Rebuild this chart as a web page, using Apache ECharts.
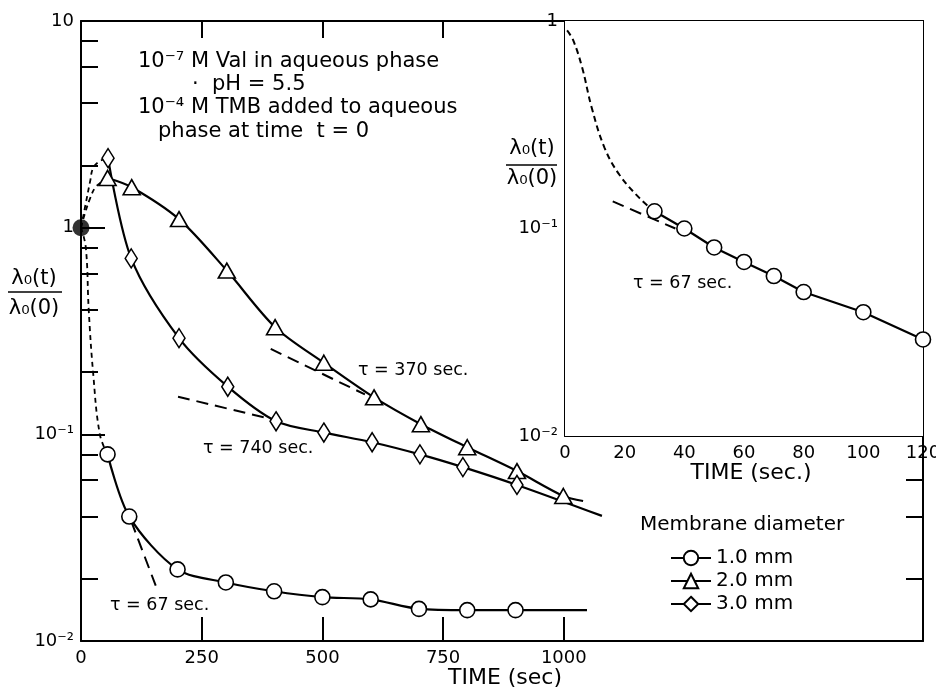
<!DOCTYPE html>
<html>
<head>
<meta charset="utf-8">
<script src="https://cdn.jsdelivr.net/npm/echarts@6/dist/echarts.min.js"></script>
<style>
html, body { margin: 0; padding: 0; background: #fff; }
#chart { width: 936px; height: 691px; }
</style>
</head>
<body>
<div id="chart"></div>
<script>
// main panel, membrane diameters (time in sec, ratio lambda0(t)/lambda0(0))
const t1 = [55, 100, 200, 300, 400, 500, 600, 700, 800, 900];
const v1 = [0.080, 0.040, 0.0222, 0.0192, 0.0174, 0.0163, 0.0159, 0.0143, 0.0141, 0.0141];
const t2 = [55, 105, 203, 302, 402, 503, 607, 704, 800, 903, 999];
const v2 = [1.74, 1.57, 1.10, 0.62, 0.330, 0.222, 0.151, 0.112, 0.0866, 0.0664, 0.0503];
const t3 = [56, 104, 203, 304, 404, 503, 603, 702, 791, 903];
const v3 = [2.17, 0.71, 0.292, 0.170, 0.1156, 0.102, 0.0916, 0.080, 0.0694, 0.0569];

// where the solid curves stop past the last marker
const tail1 = [1048, 0.0141];
const tail2 = [1040, 0.0476];
const tail3 = [1079, 0.0403];

// dashed lead-in curves from the t = 0 point
const start = [0, 1];
const lead1 = [[0, 1], [10, 0.8], [16, 0.4], [25, 0.2], [39, 0.1], [55, 0.08]];
const lead2 = [[0, 1], [8, 1.17], [19, 1.39], [29, 1.56], [39, 1.64], [55, 1.74]];
const lead3 = [[0, 1], [12, 1.39], [19, 1.68], [25, 1.94], [39, 2.10], [56, 2.17]];

// exponential fits (dashed)
const fit1 = [[104, 0.038], [160, 0.0172]];
const fit2 = [[393, 0.259], [588, 0.156]];
const fit3 = [[201, 0.152], [398, 0.118]];

// inset, 1.0 mm
const ti = [30, 40, 50, 60, 70, 80, 100, 120];
const vi = [0.121, 0.100, 0.081, 0.069, 0.059, 0.0494, 0.0395, 0.0292];
const leadI = [[0.7, 0.90], [2.7, 0.81], [5.7, 0.60], [9, 0.38], [13.3, 0.244], [18.3, 0.181], [25, 0.14], [30, 0.121]];
const fitI = [[16, 0.135], [37, 0.1]];

const names = ['1.0 mm', '2.0 mm', '3.0 mm'];

const mainXLabels = [0, 250, 500, 750, 1000];
const mainXTicks = [250, 500, 750, 1000];
const mainXTopTicks = [250, 500, 750];
const insetXLabels = [0, 20, 40, 60, 80, 100, 120];
const insetXTicks = [20, 40, 60, 80, 100];
const minorMain = [0.02, 0.04, 0.06, 0.08, 0.2, 0.4, 0.6, 0.8, 2, 4, 6, 8];
const minorMainRight = [0.02, 0.04, 0.06];
const minorInset = [0.02, 0.04, 0.06, 0.08, 0.2, 0.4, 0.6, 0.8];
const minorInsetRight = [0.02, 0.04, 0.06, 0.08, 0.1, 0.2, 0.4, 0.6, 0.8];

const FONT = 'DejaVu Sans';
const sup = { '-': '⁻', '1': '¹', '2': '²' };

function powLabel(v) {
    const e = Math.round(Math.log10(v));
    if (e === 1) return '10';
    if (e === 0) return '1';
    return '10' + String(e).split('').map(c => sup[c]).join('');
}

function pairs(xs, ys) {
    return xs.map((x, i) => [x, ys[i]]);
}

function withTail(xs, ys, tail) {
    const d = pairs(xs, ys).map(p => ({ value: p }));
    d.push({ value: tail, symbol: 'none' });
    return d;
}

const axisLine = { show: true, lineStyle: { color: '#000', width: 2 } };

function xAx(grid, pos, min, max, ticks, len, labels) {
    return {
        type: 'value', gridIndex: grid, position: pos, min: min, max: max,
        axisLine: axisLine,
        splitLine: { show: false },
        axisTick: { show: true, inside: true, length: len, customValues: ticks, lineStyle: { color: '#000', width: 2 } },
        axisLabel: labels ? {
            show: true, customValues: labels, color: '#000', fontFamily: FONT, fontSize: 18, margin: 8,
            formatter: v => String(v)
        } : { show: false }
    };
}

function yAx(grid, pos, min, max, ticks, len, labels, line) {
    return {
        type: 'log', logBase: 10, gridIndex: grid, position: pos, min: min, max: max,
        axisLine: line ? axisLine : { show: false },
        splitLine: { show: false },
        axisTick: { show: true, inside: true, length: len, customValues: ticks, lineStyle: { color: '#000', width: 2 } },
        axisLabel: labels ? {
            show: true, customValues: labels, color: '#000', fontFamily: FONT, fontSize: 18, margin: 7,
            formatter: powLabel
        } : { show: false }
    };
}

const solid = { color: '#000', width: 2.2 };
const dashLead = { color: '#000', width: 1.8, type: [5, 4] };
const dashFit = { color: '#000', width: 2, type: [12, 7] };
const markerStyle = { color: '#fff', borderColor: '#000', borderWidth: 1.6 };

function curve(name, xi, yi, data, symbol, size) {
    return {
        name: name, type: 'line', xAxisIndex: xi, yAxisIndex: yi, data: data,
        smooth: 0.3, symbol: symbol, symbolSize: size, showSymbol: true, clip: false,
        lineStyle: solid, itemStyle: markerStyle, z: 5, animation: false
    };
}

function dashed(xi, yi, data, style) {
    return {
        type: 'line', xAxisIndex: xi, yAxisIndex: yi, data: data, smooth: 0.4,
        symbol: 'none', lineStyle: style, z: 3, animation: false, silent: true
    };
}

function txt(text, x, y, size, align) {
    return {
        type: 'text', x: x, y: y, z: 20,
        style: {
            text: text, fill: '#000', font: size + 'px "' + FONT + '"',
            textAlign: align || 'left', textVerticalAlign: 'middle'
        }
    };
}

const chart = echarts.init(document.getElementById('chart'));

chart.setOption({
    backgroundColor: '#fff',
    animation: false,
    grid: [
        { left: 81, right: 13, top: 21, bottom: 50, outerBoundsMode: 'none' },
        { left: 565, right: 13, top: 21, bottom: 255, outerBoundsMode: 'none', show: true, backgroundColor: '#fff', borderWidth: 0, z: 1 }
    ],
    xAxis: [
        xAx(0, 'bottom', 0, 1744, mainXTicks, 24, mainXLabels),
        xAx(0, 'top', 0, 1744, mainXTopTicks, 17, null),
        xAx(1, 'bottom', 0, 120, insetXTicks, 24, insetXLabels),
        xAx(1, 'top', 0, 120, insetXTicks, 17, null)
    ],
    yAxis: [
        yAx(0, 'left', 0.01, 10, [0.1, 1], 24, [0.01, 0.1, 1, 10], true),
        yAx(0, 'left', 0.01, 10, minorMain, 17, null, false),
        yAx(0, 'right', 0.01, 10, minorMainRight, 17, null, true),
        yAx(1, 'left', 0.01, 1, [0.1], 23, [0.01, 0.1, 1], true),
        yAx(1, 'left', 0.01, 1, minorInset, 15, null, false),
        yAx(1, 'right', 0.01, 1, minorInsetRight, 16, null, true)
    ],
    legend: {
        left: 665, top: 543, orient: 'vertical', itemWidth: 40, itemHeight: 18, itemGap: 3,
        data: names,
        textStyle: { color: '#000', fontFamily: FONT, fontSize: 20 }
    },
    series: [
        dashed(0, 0, lead1, dashLead),
        dashed(0, 0, lead2, dashLead),
        dashed(0, 0, lead3, dashLead),
        dashed(0, 0, fit1, dashFit),
        dashed(0, 0, fit2, dashFit),
        dashed(0, 0, fit3, dashFit),
        curve(names[0], 0, 0, withTail(t1, v1, tail1), 'circle', 15),
        curve(names[1], 0, 0, withTail(t2, v2, tail2), 'triangle', [17, 15]),
        curve(names[2], 0, 0, withTail(t3, v3, tail3), 'diamond', [12, 19]),
        {
            type: 'scatter', xAxisIndex: 0, yAxisIndex: 0, data: [start],
            symbolSize: 17, itemStyle: { color: '#000' }, z: 6, clip: false
        },
        dashed(2, 3, leadI, { color: '#000', width: 2, type: [6, 4] }),
        dashed(2, 3, fitI, dashFit),
        {
            type: 'line', xAxisIndex: 2, yAxisIndex: 3, data: pairs(ti, vi),
            symbol: 'circle', symbolSize: 15, clip: false,
            lineStyle: solid, itemStyle: markerStyle, z: 5
        }
    ],
    graphic: [
        txt('10⁻⁷ M Val in aqueous phase', 138, 62, 21),
        txt('·  pH = 5.5', 192, 85, 21),
        txt('10⁻⁴ M TMB added to aqueous', 138, 108, 21),
        txt('phase at time  t = 0', 158, 132, 21),
        txt('τ = 67 sec.', 110, 605, 17.5),
        txt('τ = 740 sec.', 203, 448, 17.5),
        txt('τ = 370 sec.', 358, 370, 17.5),
        txt('τ = 67 sec.', 633, 283, 17.5),
        txt('TIME (sec)', 505, 678, 22, 'center'),
        txt('TIME (sec.)', 751, 473, 22, 'center'),
        txt('Membrane diameter', 640, 525, 20),
        txt('λ₀(t)', 34, 279, 21, 'center'),
        txt('λ₀(0)', 34, 309, 21, 'center'),
        { type: 'line', z: 20, shape: { x1: 8, y1: 292, x2: 62, y2: 292 }, style: { stroke: '#000', lineWidth: 1.5 } },
        txt('λ₀(t)', 532, 149, 21, 'center'),
        txt('λ₀(0)', 532, 179, 21, 'center'),
        { type: 'line', z: 20, shape: { x1: 506, y1: 165, x2: 557, y2: 165 }, style: { stroke: '#000', lineWidth: 1.5 } }
    ]
});
</script>
</body>
</html>
